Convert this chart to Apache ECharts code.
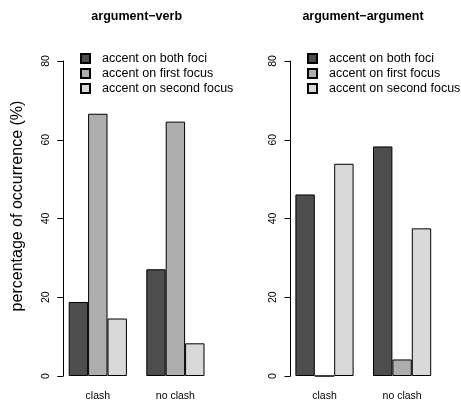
<!DOCTYPE html>
<html>
<head>
<meta charset="utf-8">
<script src="https://cdn.jsdelivr.net/npm/echarts@6/dist/echarts.min.js"></script>
<style>
  html, body { margin: 0; padding: 0; background: #fff; }
  #chart { width: 461px; height: 402px; }
</style>
</head>
<body>
<div id="chart"></div>
<script>
// Groups on the x axis and the three accent patterns
const groups = ['clash', 'no clash'];
const patterns = ['accent on both foci', 'accent on first focus', 'accent on second focus'];
const panelTitles = ['argument\u2212verb', 'argument\u2212argument'];
const yTicks = [0, 20, 40, 60, 80];

// argument–verb panel (percentage of occurrence)
const verbBoth = [18.8, 27.1];
const verbFirst = [66.6, 64.6];
const verbSecond = [14.6, 8.3];

// argument–argument panel
const argBoth = [46.1, 58.3];
const argFirst = [0, 4.2];
const argSecond = [53.9, 37.5];

const fills = ['#4D4D4D', '#AEAEAE', '#D9D9D9'];
const FONT = 'Liberation Sans, Arial, Helvetica, sans-serif';

const panels = [
  { left: 59, offset: -4.3, legendLeft: 80, values: [verbBoth, verbFirst, verbSecond] },
  { left: 285.7, offset: -4.8, legendLeft: 307, values: [argBoth, argFirst, argSecond] }
];

const grid = [], xAxis = [], yAxis = [], series = [], legend = [];

panels.forEach((p, i) => {
  grid.push({ left: p.left, top: 61, width: 155.2, height: 315, containLabel: false });
  xAxis.push({
    type: 'category', gridIndex: i, data: groups,
    axisLine: { show: false }, axisTick: { show: false },
    axisLabel: { color: '#000', fontFamily: FONT, fontSize: 10.5, margin: 15 }
  });
  yAxis.push({
    type: 'value', gridIndex: i, min: yTicks[0], max: yTicks[yTicks.length - 1], interval: 20,
    offset: p.offset,
    splitLine: { show: false },
    axisLine: { show: true, lineStyle: { color: '#000', width: 1 } },
    axisTick: { show: true, length: 6, lineStyle: { color: '#000', width: 1 } },
    axisLabel: { color: '#000', fontFamily: FONT, fontSize: 10.5, rotate: 90, margin: 12 }
  });
  patterns.forEach((name, k) => {
    series.push({
      type: 'bar', name: name, xAxisIndex: i, yAxisIndex: i,
      data: p.values[k],
      barGap: '0%', barCategoryGap: '25%',
      itemStyle: { color: fills[k], borderColor: '#000', borderWidth: 1 },
      emphasis: { disabled: true },
      animation: false
    });
  });
  legend.push({
    orient: 'vertical', left: p.legendLeft, top: 52, padding: 0,
    itemWidth: 9, itemHeight: 9, itemGap: 2, icon: 'rect',
    data: patterns,
    textStyle: { color: '#000', fontFamily: FONT, fontSize: 12.5, lineHeight: 12, padding: [0, 0, 0, 7] }
  });
});

const chart = echarts.init(document.getElementById('chart'), null, { renderer: 'canvas' });
chart.setOption({
  animation: false,
  backgroundColor: '#fff',
  grid, xAxis, yAxis, series, legend,
  graphic: [
    { type: 'text', x: 136.7, y: 17, style: { text: panelTitles[0], font: 'bold 12.5px ' + FONT, fill: '#000', align: 'center', verticalAlign: 'middle' } },
    { type: 'text', x: 363, y: 17, style: { text: panelTitles[1], font: 'bold 12.5px ' + FONT, fill: '#000', align: 'center', verticalAlign: 'middle' } },
    { type: 'text', x: 17.5, y: 206, rotation: Math.PI / 2, style: { text: 'percentage of occurrence (%)', font: '16px ' + FONT, fill: '#000', align: 'center', verticalAlign: 'middle' } }
  ]
});
</script>
</body>
</html>
